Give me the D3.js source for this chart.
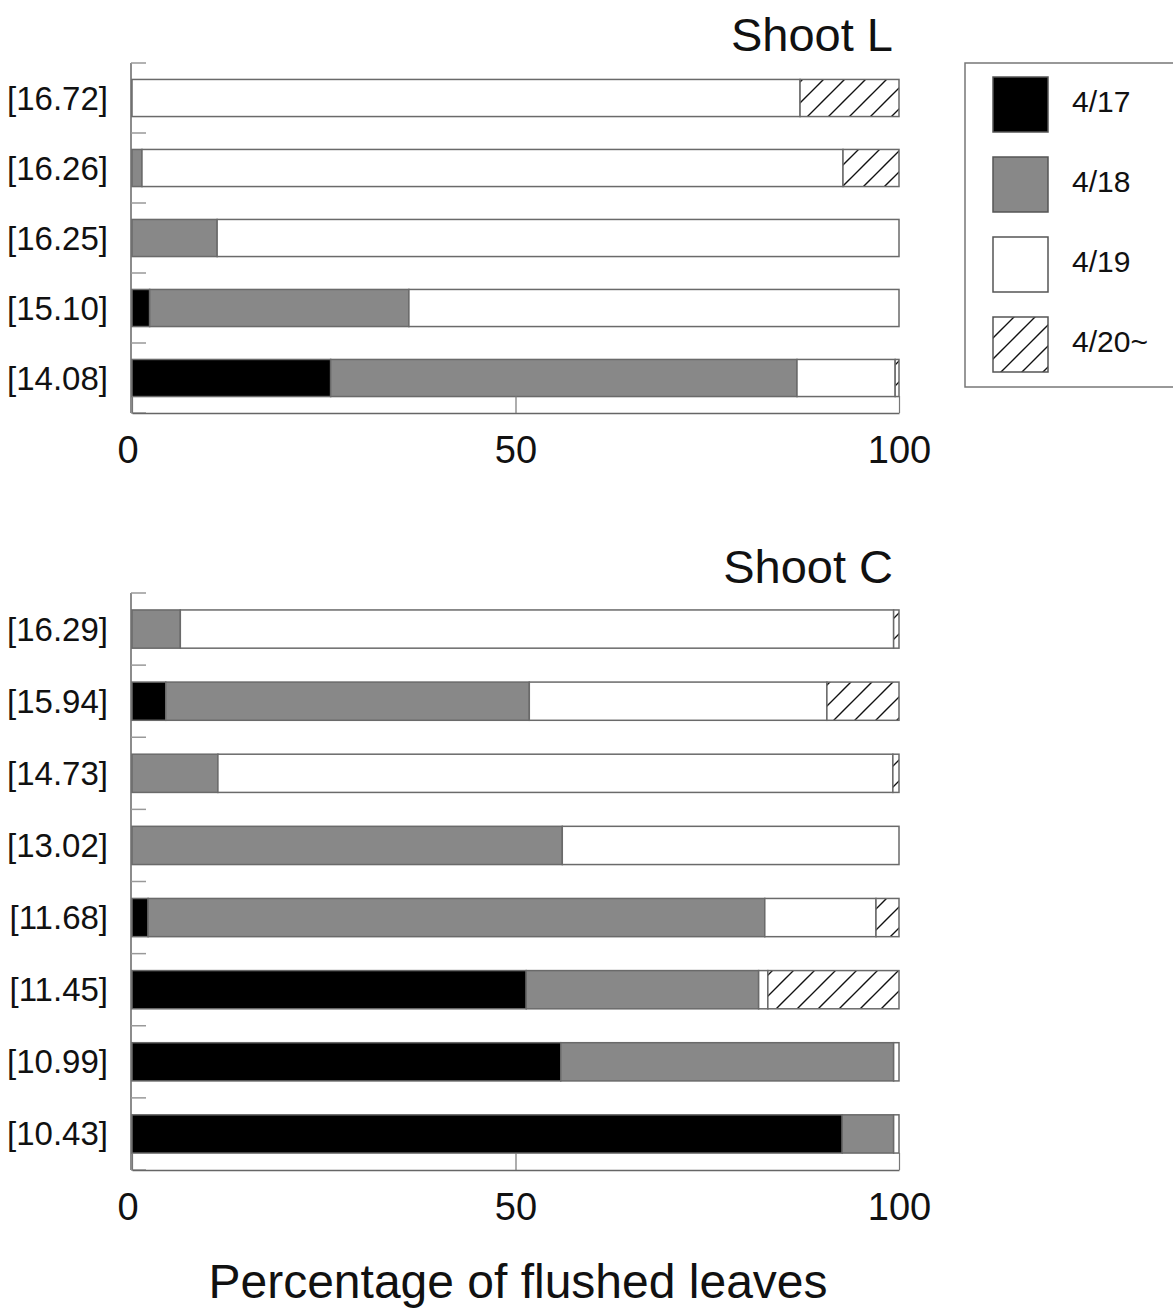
<!DOCTYPE html>
<html lang="en">
  <head>
    <meta charset="utf-8">
    <title>Percentage of flushed leaves</title>
    <script src="https://cdn.jsdelivr.net/npm/d3@7"></script>
    <style>
      body { margin: 0; background: #fff; }
      svg { display: block; font-family: "Liberation Sans", Arial, sans-serif; }
      .ylab { font-size: 33px; fill: #111; }
      .xtick { font-size: 38px; fill: #111; }
      .title { font-size: 47px; fill: #111; }
      .xtitle { font-size: 48px; fill: #111; }
      .legtext { font-size: 30px; fill: #111; }
    </style>
  </head>
  <body>
    <div id="chart"></div>
    <script>

    // data
    const seriesKeys = ["4/17", "4/18", "4/19", "4/20~"];

    const shootLLabels = ["[16.72]", "[16.26]", "[16.25]", "[15.10]", "[14.08]"];
    const shootL_417 = [0, 0, 0, 2.3, 25.9];
    const shootL_418 = [0, 1.3, 11.1, 33.8, 60.8];
    const shootL_419 = [87.1, 91.4, 88.9, 63.9, 12.8];
    const shootL_420 = [12.9, 7.3, 0, 0, 0.5];

    const shootCLabels = ["[16.29]", "[15.94]", "[14.73]", "[13.02]", "[11.68]", "[11.45]", "[10.99]", "[10.43]"];
    const shootC_417 = [0, 4.4, 0, 0, 2.1, 51.4, 55.9, 92.6];
    const shootC_418 = [6.3, 47.4, 11.2, 56.1, 80.4, 30.3, 43.4, 6.7];
    const shootC_419 = [93.0, 38.8, 88.0, 43.9, 14.5, 1.2, 0.7, 0.7];
    const shootC_420 = [0.7, 9.4, 0.8, 0, 3.0, 17.1, 0, 0];

    const xTicks = [0, 50, 100];

    // layout
    const W = 1173, H = 1310;
    const plotLeft = 132, plotRight = 899;
    const fills = ["#000000", "#888888", "#ffffff", "url(#hatch)"];

    const svg = d3.select('#chart').append('svg')
      .attr('width', W)
      .attr('height', H);

    // hatch pattern, 45 degree lines
    const hs = 21;
    const pat = svg.append('defs').append('pattern')
      .attr('id', 'hatch')
      .attr('patternUnits', 'userSpaceOnUse')
      .attr('width', hs)
      .attr('height', hs);
    pat.append('rect').attr('width', hs).attr('height', hs).attr('fill', '#fff');
    pat.append('path')
      .attr('d', 'M0,' + hs + 'L' + hs + ',0M-2,2L2,-2M' + (hs - 2) + ',' + (hs + 2) + 'L' + (hs + 2) + ',' + (hs - 2))
      .attr('stroke', '#111').attr('stroke-width', 1.4)
      .attr('fill', 'none');

    const x = d3.scaleLinear().domain([0, 100]).range([plotLeft, plotRight]);

    function panel(labels, cols, top, bottom, title, titleY) {
      const rows = labels.map((l, i) => {
        const r = { label: l };
        seriesKeys.forEach((k, j) => r[k] = cols[j][i]);
        return r;
      });
      const stacked = d3.stack().keys(seriesKeys)(rows);

      const y = d3.scaleBand()
        .domain(labels)
        .range([top, bottom])
        .paddingInner(0.47)
        .paddingOuter(0.235);

      const g = svg.append('g');

      // bars
      g.selectAll('g.series')
        .data(stacked)
        .enter()
        .append('g')
        .attr('class', 'series')
        .attr('fill', (d, i) => fills[i])
        .selectAll('rect')
        .data(d => d.filter(s => s[1] - s[0] > 0))
        .enter()
        .append('rect')
        .attr('x', d => x(d[0]))
        .attr('y', d => y(d.data.label))
        .attr('width', d => x(d[1]) - x(d[0]))
        .attr('height', y.bandwidth())
        .attr('stroke', '#6a6a6a')
        .attr('stroke-width', 1.5);

      // left axis line with small inner ticks at band edges
      g.append('line')
        .attr('x1', plotLeft - 1).attr('x2', plotLeft - 1)
        .attr('y1', top).attr('y2', bottom)
        .attr('stroke', '#666').attr('stroke-width', 1.5);

      g.selectAll('line.ltick')
        .data(d3.range(labels.length + 1))
        .enter()
        .append('line')
        .attr('class', 'ltick')
        .attr('x1', plotLeft - 1).attr('x2', plotLeft + 14)
        .attr('y1', i => top + i * y.step()).attr('y2', i => top + i * y.step())
        .attr('stroke', '#999').attr('stroke-width', 1.5);

      // category labels
      g.selectAll('text.ylab')
        .data(labels)
        .enter()
        .append('text')
        .attr('class', 'ylab')
        .attr('x', 108)
        .attr('y', d => y(d) + y.bandwidth() / 2)
        .attr('dy', '0.35em')
        .attr('text-anchor', 'end')
        .text(d => d);

      // bottom axis
      const ax = g.append('g')
        .attr('transform', 'translate(0,' + bottom + ')')
        .call(d3.axisBottom(x).tickValues(xTicks).tickSize(-17).tickSizeOuter(0).tickPadding(23));
      ax.select('.domain').attr('stroke', '#666').attr('stroke-width', 1.5);
      ax.selectAll('.tick line').attr('stroke', '#777').attr('stroke-width', 1.2);
      ax.selectAll('.tick text')
        .attr('class', 'xtick')
        .attr('dx', (d, i) => i === 0 ? '-0.12em' : null)
        .attr('fill', null);
      ax.attr('font-size', null).attr('font-family', null);

      // title
      svg.append('text')
        .attr('class', 'title')
        .attr('x', 893)
        .attr('y', titleY)
        .attr('text-anchor', 'end')
        .text(title);
    }

    panel(shootLLabels, [shootL_417, shootL_418, shootL_419, shootL_420], 63, 413, 'Shoot L', 51);
    panel(shootCLabels, [shootC_417, shootC_418, shootC_419, shootC_420], 593, 1170, 'Shoot C', 583);

    // legend
    const leg = svg.append('g');
    leg.append('rect')
      .attr('x', 965).attr('y', 63)
      .attr('width', 220).attr('height', 324)
      .attr('fill', 'none')
      .attr('stroke', '#777').attr('stroke-width', 1.5);

    const legItem = leg.selectAll('g.item')
      .data(seriesKeys)
      .enter()
      .append('g')
      .attr('class', 'item')
      .attr('transform', (d, i) => 'translate(993,' + (77 + i * 80) + ')');

    legItem.append('rect')
      .attr('width', 55).attr('height', 55)
      .attr('fill', (d, i) => fills[i])
      .attr('stroke', '#555').attr('stroke-width', 1.5);

    legItem.append('text')
      .attr('class', 'legtext')
      .attr('x', 79)
      .attr('y', 24)
      .attr('dy', '0.35em')
      .text(d => d);

    // x axis title
    svg.append('text')
      .attr('class', 'xtitle')
      .attr('x', 518)
      .attr('y', 1298)
      .attr('text-anchor', 'middle')
      .text('Percentage of flushed leaves');

    </script>
  </body>
</html>
